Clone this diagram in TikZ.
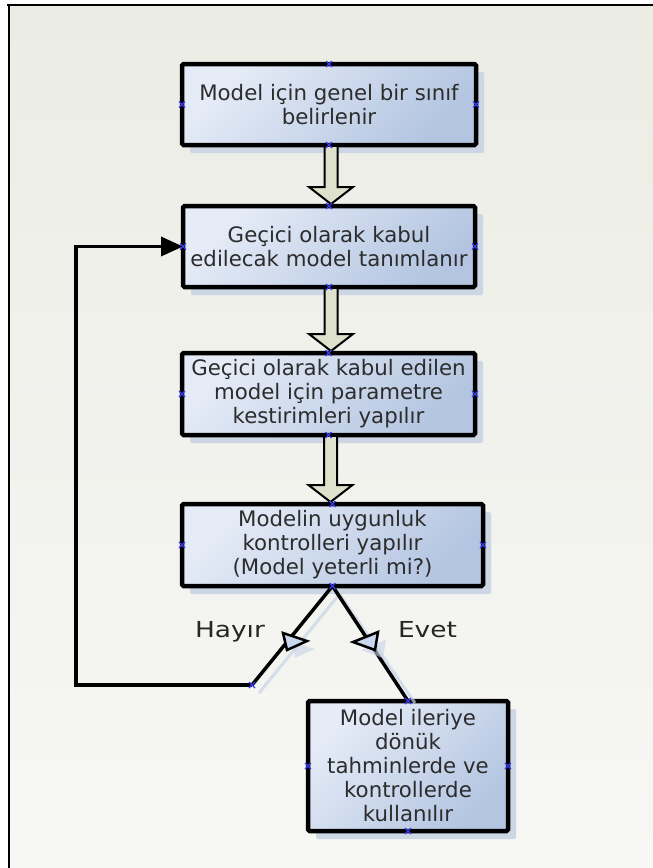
\documentclass[tikz,border=0pt]{standalone}
\usepackage{graphicx}
\usepackage{fontspec}
\setmainfont{DejaVu Sans}
\usetikzlibrary{shadows,arrows.meta,calc}
\definecolor{bgtop}{HTML}{EBEDE4}
\definecolor{bgbot}{HTML}{F7F7F5}
\definecolor{boxlight}{HTML}{E6ECF7}
\definecolor{boxdark}{HTML}{B3C5E1}
\definecolor{shadowc}{HTML}{CDD6E5}
\definecolor{arrowfill}{HTML}{DEE2CC}
\definecolor{txt}{HTML}{2C2C2C}
\definecolor{cpblue}{HTML}{3A3AF0}
\definecolor{headfill}{HTML}{C9D7EF}
\definecolor{lineshadow}{HTML}{C8D4E8}
\tikzset{
  box/.style={draw=black, line width=4.5pt, rounded corners=1.5pt, inner sep=0pt, outer sep=0pt,
    align=center, text=txt, font=\fontsize{21.3}{24}\selectfont,
    top color=boxlight, bottom color=boxdark, shading angle=45,
    drop shadow={shadow xshift=8pt, shadow yshift=-8pt, fill=shadowc, opacity=1}},
  blkarrow/.style={draw=black, line width=2pt, fill=arrowfill, line join=miter},
  conn/.style={draw=black, line width=3.5pt},
  connshadow/.style={draw=lineshadow, line width=3pt, opacity=0.7},
  openhead/.style={draw=black, line width=2.5pt, fill=headfill, line join=miter},
  cpstyle/.style={draw=cpblue, line width=1.1pt},
  lbl/.style={text=black!85, font=\fontsize{22}{24}\selectfont, inner sep=0pt}
}
\newcommand\blkarrow[2]{%
  \path ($(#1.south)+(2,2)$) coordinate (ta) ($(ta |- #2.north)+(0,-2)$) coordinate (tb);
  \draw[blkarrow] ($(ta)+(-6.5,0)$) -- ($(tb)+(-6.5,-17)$) -- ($(tb)+(-22,-17)$) -- (tb)
     -- ($(tb)+(22,-17)$) -- ($(tb)+(6.5,-17)$) -- ($(ta)+(6.5,0)$);}
\newcommand\cpmark[1]{%
  \draw[cpstyle] ($(#1)+(-3,-3)$) -- ($(#1)+(3,3)$) ($(#1)+(-3,3)$) -- ($(#1)+(3,-3)$);}
\begin{document}
\begin{tikzpicture}[x=1pt,y=-1pt]
\useasboundingbox (0,0) rectangle (653,868);
\fill[white] (0,0) rectangle (653,868);
\shade[top color=bgtop, bottom color=bgbot] (10,6) rectangle (653,868);
\draw[line width=2.2pt] (7,5) -- (653,5);
\draw[line width=2.2pt] (9,4) -- (9,868);

% boxes
\node[box, minimum width=294pt, minimum height=81pt] (b1) at (329,104.5)
  {Model için genel bir sınıf\\belirlenir};
\node[box, minimum width=292pt, minimum height=81pt] (b2) at (329,246.5)
  {Geçici olarak kabul\\edilecak model tanımlanır};
\node[box, minimum width=293pt, minimum height=82pt] (b3) at (328.5,394)
  {Geçici olarak kabul edilen\\model için parametre\\kestirimleri yapılır};
\node[box, minimum width=301pt, minimum height=82pt] (b4) at (332.5,545)
  {Modelin uygunluk\\kontrolleri yapılır\\(Model yeterli mi?)};
\node[box, minimum width=200pt, minimum height=130pt] (b5) at (408,766)
  {Model ileriye\\dönük\\tahminlerde ve\\kontrollerde\\kullanılır};

% block arrows
\blkarrow{b1}{b2}
\blkarrow{b2}{b3}
\blkarrow{b3}{b4}

% decision connectors
\coordinate (hend) at (252,685);
\coordinate (loop) at (76,246.5);
\draw[connshadow] ($(b4.south)+(7,8)$) -- ($(hend)+(7,8)$);
\draw[connshadow] ($(b4.south)+(7,8)$) -- ($(b5.north)+(7,2)$);
\draw[conn] (b4.south) -- (hend);
\draw[conn] (b4.south) -- (b5.north);
\draw[conn, -{Triangle[length=22pt,width=19pt]}] (hend) -| (loop) -- (b2.west);

% open mid-line heads
\fill[lineshadow, opacity=0.6] (291,641) -- (315,649) -- (295,658) -- cycle;
\fill[lineshadow, opacity=0.6] (361,650) -- (386,640) -- (383,658) -- cycle;
\draw[openhead] (283,633) -- (307,641) -- (287,650) -- cycle;
\draw[openhead] (353,642) -- (378,632) -- (375,650) -- cycle;

% labels
\node[lbl, anchor=base] (hayir) at (230,637) {\scalebox{1.2}[1]{Hayır}};
\node[lbl, anchor=base] (evet) at (427.5,637) {\scalebox{1.2}[1]{Evet}};

% connection point marks
\foreach \b in {b1,b2,b3,b4,b5}{
  \foreach \a in {north,south,east,west}{
    \cpmark{\b.\a}
  }
}
\cpmark{hend}
\end{tikzpicture}
\end{document}
